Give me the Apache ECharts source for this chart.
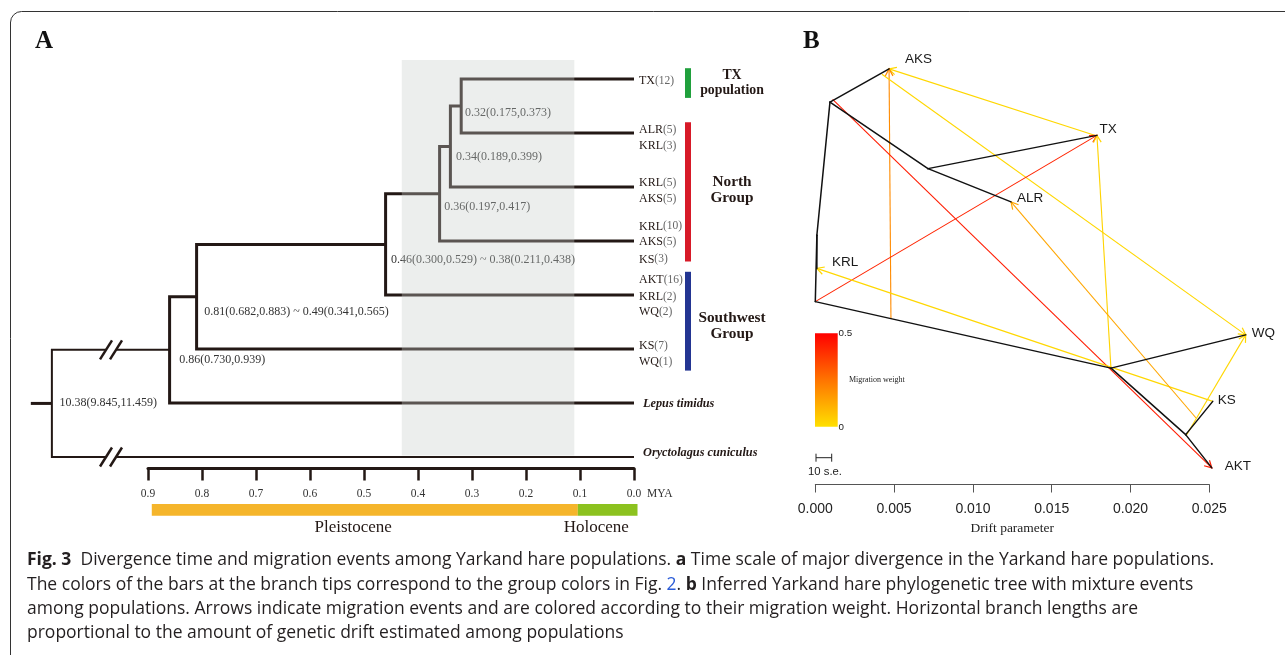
<!DOCTYPE html>
<html><head><meta charset="utf-8">
<script src="https://cdn.jsdelivr.net/npm/echarts@6/dist/echarts.min.js"></script>
<style>html,body{margin:0;padding:0;background:#fff}#c{width:1285px;height:655px}</style>
</head><body><div id="c"></div>
<script>
// ================= DATA : panel A (time tree, MYA) =================
const tipsA = ['TX','ALR','KRL5','AKS5','AKT','KS7','Lepus','Oryctolagus']; // row order
// internal nodes: [name, age (MYA, drawn), child1, child2]  (children first)
const nodesA = [
  ['n032', 0.32, 'TX', 'ALR'],
  ['n034', 0.34, 'n032', 'KRL5'],
  ['n036', 0.36, 'n034', 'AKS5'],
  ['n046', 0.46, 'n036', 'AKT'],
  ['n081', 0.81, 'n046', 'KS7'],
  ['n086', 0.86, 'n081', 'Lepus'],
  ['root', 1.078, 'n086', 'Oryctolagus']
];
const rootStemAge = 1.117;
const breakAge = 0.9685;
const tickValuesA = [0.9,0.8,0.7,0.6,0.5,0.4,0.3,0.2,0.1,0.0];
const tipLabelNames  = ['TX','ALR','KRL','KRL','AKS','KRL','AKS','KS','AKT','KRL','WQ','KS','WQ'];
const tipLabelCounts = [12,5,3,5,5,10,5,3,16,2,2,7,1];
const tipLabelRows   = [0.04,0.94,1.24,1.93,2.22,2.73,3.02,3.34,3.72,4.03,4.32,4.94,5.24];
const outgroupNames = ['Lepus timidus','Oryctolagus cuniculus'];
const outgroupRows  = [6.02, 6.93];
const nodeLabelTexts = ['0.32(0.175,0.373)','0.34(0.189,0.399)','0.36(0.197,0.417)',
  '0.46(0.300,0.529) ~ 0.38(0.211,0.438)','0.81(0.682,0.883) ~ 0.49(0.341,0.565)',
  '0.86(0.730,0.939)','10.38(9.845,11.459)'];
const nodeLabelAges = [0.313,0.3296,0.3513,0.450,0.7957,0.842,1.064];
const nodeLabelRows = [0.62,1.45,2.36,3.34,4.31,5.20,5.99];
const bandAges = [0.43, 0.1105];
const bandRows = [-0.35, 6.97];
const groupNames = ['TX\npopulation','North\nGroup','Southwest\nGroup'];
const groupRowFrom = [-0.20, 0.80, 3.57];
const groupRowTo   = [ 0.35, 3.38, 5.40];
const groupLabelRows = [0.07, 2.06, 4.57];
const epochNames = ['Pleistocene','Holocene'];
const epochFrom = [0.893, 0.104];
const epochTo   = [0.104, -0.0065];
const epochLabelAge = [0.52, 0.07];

// ================= DATA : panel B (TreeMix drift tree) =================
const tipsB = ['AKS','TX','ALR','KRL','WQ','KS','AKT'];
const tipDriftB = [0.00468, 0.01787, 0.01242, 0.00010, 0.02731, 0.02522, 0.02516];
const tipRowB   = [7, 6, 5, 4, 3, 2, 1];
const innerB = ['nA','nTA','nK','root','nSW','nKA'];
const innerDriftB = [0.00093, 0.00715, 0.00010, 0.0, 0.01876, 0.02350];
const innerRowB   = [6.5, 5.5, 4.5, 3.5, 2.5, 1.5];
const edgesB = [['root','nK'],['nK','KRL'],['nK','nA'],['nA','AKS'],['nA','nTA'],['nTA','TX'],['nTA','ALR'],
  ['root','nSW'],['nSW','WQ'],['nSW','nKA'],['nKA','KS'],['nKA','AKT']];
const migFrom = [[0.01787,5.99],[0.00480,3.24],[0.00423,6.92],[0.00110,6.54],[0.0,3.5],[0.02522,2.0],[0.01876,2.5],[0.02416,1.75],[0.02352,1.48]];
const migTo = ['AKS','AKS','WQ','AKT','TX','KRL','TX','ALR','WQ'];
const migWeight = [0.02,0.19,0.02,0.44,0.42,0.02,0.03,0.13,0.02];
const driftTicks = [0.000,0.005,0.010,0.015,0.020,0.025];

// ================= styles / layout =================
const INK = '#231815';
const SERIF = '"Liberation Serif", "Times New Roman", serif';
const SANS = '"Liberation Sans", Arial, sans-serif';
const CAP = '"Open Sans", sans-serif';
const CAPSIZE = 17.5;
const groupColors = ['#20a03c','#d71a28','#233592'];
const epochColors = ['#f5b52b','#8cc21f'];
const tipLabelOffsetB = {AKS:[16,-10],TX:[2.6,-6.5],ALR:[6,-4],KRL:[15,-6],WQ:[6,-2],KS:[5,-1.5],AKT:[13,-2]};

// ---- derived tree geometry (A) ----
const rowA = {}, ageA = {};
tipsA.forEach((t,i)=>{rowA[t]=i; ageA[t]=0;});
nodesA.forEach(([n,age,c1,c2])=>{ageA[n]=age; rowA[n]=(rowA[c1]+rowA[c2])/2;});
const polysA = nodesA.map(([n,age,c1,c2])=>({
  pts:[[ageA[c1],rowA[c1]],[age,rowA[c1]],[age,rowA[c2]],[ageA[c2],rowA[c2]]],
  w: n==='root'?2:3
}));
polysA.push({pts:[[rootStemAge,rowA.root],[ageA.root,rowA.root]], w:3});
const rootNode = nodesA[nodesA.length-1];
const breakRows = [rowA[rootNode[2]], rowA[rootNode[3]]];

function posB(name){
  let i = tipsB.indexOf(name);
  if (i>=0) return [tipDriftB[i], tipRowB[i]];
  i = innerB.indexOf(name);
  return [innerDriftB[i], innerRowB[i]];
}
function weightColor(w){
  const g = Math.round(224*(1-w/0.5));
  return 'rgb(255,'+g+',0)';
}

const chart = echarts.init(document.getElementById('c'));
const gridBase = {containLabel:false, outerBoundsMode:'none'};

const option = {
  animation:false,
  backgroundColor:'#ffffff',
  grid:[
    Object.assign({left:13, top:25, width:621, height:486}, gridBase),
    Object.assign({left:148, top:440, width:486, height:28.6}, gridBase),
    Object.assign({left:815.3, top:19, width:394, height:465.5}, gridBase)
  ],
  xAxis:[
    {gridIndex:0, type:'value', min:0, max:1.15, inverse:true, show:false},
    {gridIndex:1, type:'value', min:0, max:0.9, interval:0.1, inverse:true, position:'bottom',
      axisLine:{onZero:false, lineStyle:{color:INK, width:3}},
      axisTick:{length:12, lineStyle:{color:INK, width:2.5}},
      splitLine:{show:false},
      axisLabel:{margin:19, fontFamily:SERIF, fontSize:11.5, color:'#333', formatter:v=>v.toFixed(1), showMinLabel:true, showMaxLabel:true}},
    {gridIndex:2, type:'value', min:0, max:0.025, interval:0.005, position:'bottom',
      axisLine:{onZero:false, lineStyle:{color:'#555', width:1}},
      axisTick:{length:8, lineStyle:{color:'#555', width:1}},
      splitLine:{show:false},
      axisLabel:{margin:18, fontFamily:SANS, fontSize:14, color:'#222', formatter:v=>v.toFixed(3), showMinLabel:true, showMaxLabel:true},
      name:'Drift parameter', nameLocation:'middle', nameGap:37,
      nameTextStyle:{fontFamily:SERIF, fontSize:13.5, color:'#222'}}
  ],
  yAxis:[
    {gridIndex:0, type:'value', min:-1, max:8, inverse:true, show:false},
    {gridIndex:1, type:'value', min:0, max:1, show:false},
    {gridIndex:2, type:'value', min:0.75, max:7.75, show:false}
  ],
  series:[
    // ---- A: tree branches
    {type:'custom', xAxisIndex:0, yAxisIndex:0, clip:false, silent:true, z:2,
      data: polysA.map(p=>[p.pts[0][0], p.pts[0][1]]),
      renderItem:(params, api)=>{
        const it = polysA[params.dataIndex];
        return {type:'polyline', shape:{points: it.pts.map(p=>api.coord(p))},
          style:{stroke:INK, lineWidth:it.w, fill:null, lineJoin:'miter', lineCap:'butt'}};
      }},
    // ---- A: break marks
    {type:'custom', xAxisIndex:0, yAxisIndex:0, clip:false, silent:true, z:2.5,
      data: breakRows.map(r=>[breakAge, r]),
      renderItem:(params, api)=>{
        const c = api.coord([breakAge, breakRows[params.dataIndex]]);
        return {type:'group', children:[
          {type:'rect', shape:{x:c[0]-5, y:c[1]-3, width:10, height:6}, style:{fill:'#fff'}},
          {type:'line', shape:{x1:c[0]-11, y1:c[1]+9.5, x2:c[0]+1, y2:c[1]-9.5}, style:{stroke:INK, lineWidth:2.5}},
          {type:'line', shape:{x1:c[0]-1, y1:c[1]+9.5, x2:c[0]+11, y2:c[1]-9.5}, style:{stroke:INK, lineWidth:2.5}}
        ]};
      }},
    // ---- A: node labels
    {type:'custom', xAxisIndex:0, yAxisIndex:0, clip:false, silent:true, z:2.6,
      data: nodeLabelTexts.map((t,i)=>[nodeLabelAges[i], nodeLabelRows[i]]),
      renderItem:(params, api)=>{
        const i = params.dataIndex;
        const c = api.coord([nodeLabelAges[i], nodeLabelRows[i]]);
        return {type:'text', x:c[0], y:c[1], style:{text:nodeLabelTexts[i], fontFamily:SERIF, fontSize:12,
          fill:'#333', align:'left', verticalAlign:'middle'}};
      }},
    // ---- A: grey time band (overlay)
    {type:'custom', xAxisIndex:0, yAxisIndex:0, clip:false, silent:true, z:3,
      data:[[bandAges[0], bandRows[0]]],
      renderItem:(params, api)=>{
        const a = api.coord([bandAges[0], bandRows[0]]), b = api.coord([bandAges[1], bandRows[1]]);
        return {type:'rect', shape:{x:a[0], y:a[1], width:b[0]-a[0], height:b[1]-a[1]},
          style:{fill:'rgba(198,204,202,0.34)'}};
      }},
    // ---- A: tip labels
    {type:'custom', xAxisIndex:0, yAxisIndex:0, clip:false, silent:true, z:4,
      data: tipLabelNames.map((t,i)=>[0, tipLabelRows[i]]),
      renderItem:(params, api)=>{
        const i = params.dataIndex;
        const c = api.coord([0, tipLabelRows[i]]);
        return {type:'text', x:c[0]+5, y:c[1], style:{
          text:'{n|'+tipLabelNames[i]+'}{c|('+tipLabelCounts[i]+')}', align:'left', verticalAlign:'middle',
          rich:{n:{fontFamily:SERIF, fontSize:12, fill:INK}, c:{fontFamily:SERIF, fontSize:11.5, fill:'#666'}}}};
      }},
    // ---- A: outgroup labels
    {type:'custom', xAxisIndex:0, yAxisIndex:0, clip:false, silent:true, z:4,
      data: outgroupNames.map((t,i)=>[0, outgroupRows[i]]),
      renderItem:(params, api)=>{
        const i = params.dataIndex;
        const c = api.coord([0, outgroupRows[i]]);
        return {type:'text', x:c[0]+9, y:c[1], style:{text:outgroupNames[i], fontFamily:SERIF, fontSize:12.3,
          fontWeight:'bold', fontStyle:'italic', fill:INK, align:'left', verticalAlign:'middle'}};
      }},
    // ---- A: group bars & labels
    {type:'custom', xAxisIndex:0, yAxisIndex:0, clip:false, silent:true, z:4,
      data: groupNames.map((g,i)=>[0, groupRowFrom[i]]),
      renderItem:(params, api)=>{
        const i = params.dataIndex;
        const a = api.coord([0, groupRowFrom[i]]), b = api.coord([0, groupRowTo[i]]);
        const l = api.coord([0, groupLabelRows[i]]);
        return {type:'group', children:[
          {type:'rect', shape:{x:a[0]+51, y:a[1], width:6, height:b[1]-a[1]}, style:{fill:groupColors[i]}},
          {type:'text', x:a[0]+98, y:l[1], style:{text:groupNames[i], fontFamily:SERIF, fontWeight:'bold',
            fontSize: i===0?13.8:15.3, lineHeight: i===0?15.5:16, fill:INK, align:'center', verticalAlign:'middle'}}
        ]};
      }},
    // ---- A: epoch bars
    {type:'custom', xAxisIndex:0, yAxisIndex:0, clip:false, silent:true, z:4,
      data: epochNames.map((e,i)=>[epochFrom[i], 7.87]),
      renderItem:(params, api)=>{
        const i = params.dataIndex;
        const a = api.coord([epochFrom[i], 7.87]), b = api.coord([epochTo[i], 8.09]);
        const l = api.coord([epochLabelAge[i], 8.3]);
        return {type:'group', children:[
          {type:'rect', shape:{x:a[0], y:a[1], width:b[0]-a[0], height:b[1]-a[1]}, style:{fill:epochColors[i]}},
          {type:'text', x:l[0], y:l[1], style:{text:epochNames[i], fontFamily:SERIF, fontSize:17,
            fill:INK, align:'center', verticalAlign:'middle'}}
        ]};
      }},
    // ---- B: tree edges
    {type:'custom', xAxisIndex:2, yAxisIndex:2, clip:false, silent:true, z:3,
      data: edgesB.map(e=>posB(e[0])),
      renderItem:(params, api)=>{
        const e = edgesB[params.dataIndex];
        const a = api.coord(posB(e[0])), b = api.coord(posB(e[1]));
        return {type:'line', shape:{x1:a[0], y1:a[1], x2:b[0], y2:b[1]}, style:{stroke:'#111', lineWidth:1.5, lineCap:'round'}};
      }},
    // ---- B: migration arrows
    {type:'custom', xAxisIndex:2, yAxisIndex:2, clip:false, silent:true, z:2,
      data: migFrom.map(p=>p),
      renderItem:(params, api)=>{
        const i = params.dataIndex;
        const a = api.coord(migFrom[i]), b = api.coord(posB(migTo[i]));
        const ang = Math.atan2(b[1]-a[1], b[0]-a[0]);
        const L = 8, h = 0.5;
        const p1 = [b[0]-L*Math.cos(ang-h), b[1]-L*Math.sin(ang-h)];
        const p2 = [b[0]-L*Math.cos(ang+h), b[1]-L*Math.sin(ang+h)];
        const col = weightColor(migWeight[i]);
        return {type:'group', children:[
          {type:'line', shape:{x1:a[0], y1:a[1], x2:b[0], y2:b[1]}, style:{stroke:col, lineWidth:1.1}},
          {type:'polyline', shape:{points:[p1,b,p2]}, style:{stroke:col, lineWidth:1.2, fill:null}}
        ]};
      }},
    // ---- B: tip labels
    {type:'custom', xAxisIndex:2, yAxisIndex:2, clip:false, silent:true, z:4,
      data: tipsB.map((t,i)=>[tipDriftB[i], tipRowB[i]]),
      renderItem:(params, api)=>{
        const i = params.dataIndex;
        const c = api.coord([tipDriftB[i], tipRowB[i]]);
        const o = tipLabelOffsetB[tipsB[i]];
        return {type:'text', x:c[0]+o[0], y:c[1]+o[1], style:{text:tipsB[i], fontFamily:SANS, fontSize:13.5,
          fill:'#1a1a1a', align:'left', verticalAlign:'middle'}};
      }}
  ],
  graphic:[
    {type:'polyline', shape:{points:[[10.5,655],[10.5,22]]}, style:{stroke:'#333', lineWidth:1, fill:null}},
    {type:'arc', shape:{cx:21.5, cy:22.5, r:11, startAngle:Math.PI, endAngle:Math.PI*1.5}, style:{stroke:'#333', lineWidth:1, fill:null}},
    {type:'polyline', shape:{points:[[21.5,11.5],[1285,11.5]]}, style:{stroke:'#333', lineWidth:1, fill:null}},
    {type:'text', x:35, y:42, style:{text:'A', fontFamily:SERIF, fontWeight:'bold', fontSize:25, fill:'#111', align:'left', verticalAlign:'middle'}},
    {type:'text', x:803, y:42, style:{text:'B', fontFamily:SERIF, fontWeight:'bold', fontSize:25, fill:'#111', align:'left', verticalAlign:'middle'}},
    {type:'text', x:647, y:493.6, style:{text:'MYA', fontFamily:SERIF, fontSize:11.5, fill:'#333', align:'left', verticalAlign:'middle'}},
    // colour bar legend
    {type:'rect', shape:{x:815, y:333.3, width:22.7, height:93.4},
      style:{fill:new echarts.graphic.LinearGradient(0,0,0,1,[{offset:0,color:'#ff0000'},{offset:0.5,color:'#ff7400'},{offset:1,color:'#ffe000'}])}},
    {type:'text', x:838.5, y:333.5, style:{text:'0.5', fontFamily:SANS, fontSize:9.8, fill:'#222', align:'left', verticalAlign:'middle'}},
    {type:'text', x:838.5, y:427, style:{text:'0', fontFamily:SANS, fontSize:9.8, fill:'#222', align:'left', verticalAlign:'middle'}},
    {type:'text', x:849, y:380, style:{text:'Migration weight', fontFamily:SERIF, fontSize:8, fill:'#222', align:'left', verticalAlign:'middle'}},
    // 10 s.e. scale bar
    {type:'polyline', shape:{points:[[816,457.7],[831.7,457.7]]}, style:{stroke:'#222', lineWidth:1, fill:null}},
    {type:'polyline', shape:{points:[[816,453.7],[816,461.7]]}, style:{stroke:'#222', lineWidth:1, fill:null}},
    {type:'polyline', shape:{points:[[831.7,453.7],[831.7,461.7]]}, style:{stroke:'#222', lineWidth:1, fill:null}},
    {type:'text', x:825, y:472, style:{text:'10 s.e.', fontFamily:SANS, fontSize:11.3, fill:'#222', align:'center', verticalAlign:'middle'}},
    // caption
    {type:'text', x:27, y:560, style:{text:'{b|Fig. 3}  Divergence time and migration events among Yarkand hare populations. {b|a} Time scale of major divergence in the Yarkand hare populations.',
      fontFamily:CAP, fontSize:CAPSIZE, fill:'#231f20', align:'left', verticalAlign:'middle',
      rich:{b:{fontFamily:CAP, fontWeight:'bold', fontSize:CAPSIZE, fill:'#231f20'}}}},
    {type:'text', x:27, y:585, style:{text:'The colors of the bars at the branch tips correspond to the group colors in Fig. {l|2}. {b|b} Inferred Yarkand hare phylogenetic tree with mixture events',
      fontFamily:CAP, fontSize:CAPSIZE, fill:'#231f20', align:'left', verticalAlign:'middle',
      rich:{b:{fontFamily:CAP, fontWeight:'bold', fontSize:CAPSIZE, fill:'#231f20'}, l:{fontFamily:CAP, fontSize:CAPSIZE, fill:'#2a5bd7'}}}},
    {type:'text', x:27, y:609, style:{text:'among populations. Arrows indicate migration events and are colored according to their migration weight. Horizontal branch lengths are',
      fontFamily:CAP, fontSize:CAPSIZE, fill:'#231f20', align:'left', verticalAlign:'middle'}},
    {type:'text', x:27, y:633, style:{text:'proportional to the amount of genetic drift estimated among populations',
      fontFamily:CAP, fontSize:CAPSIZE, fill:'#231f20', align:'left', verticalAlign:'middle'}}
  ]
};
chart.setOption(option);
</script>
</body></html>
